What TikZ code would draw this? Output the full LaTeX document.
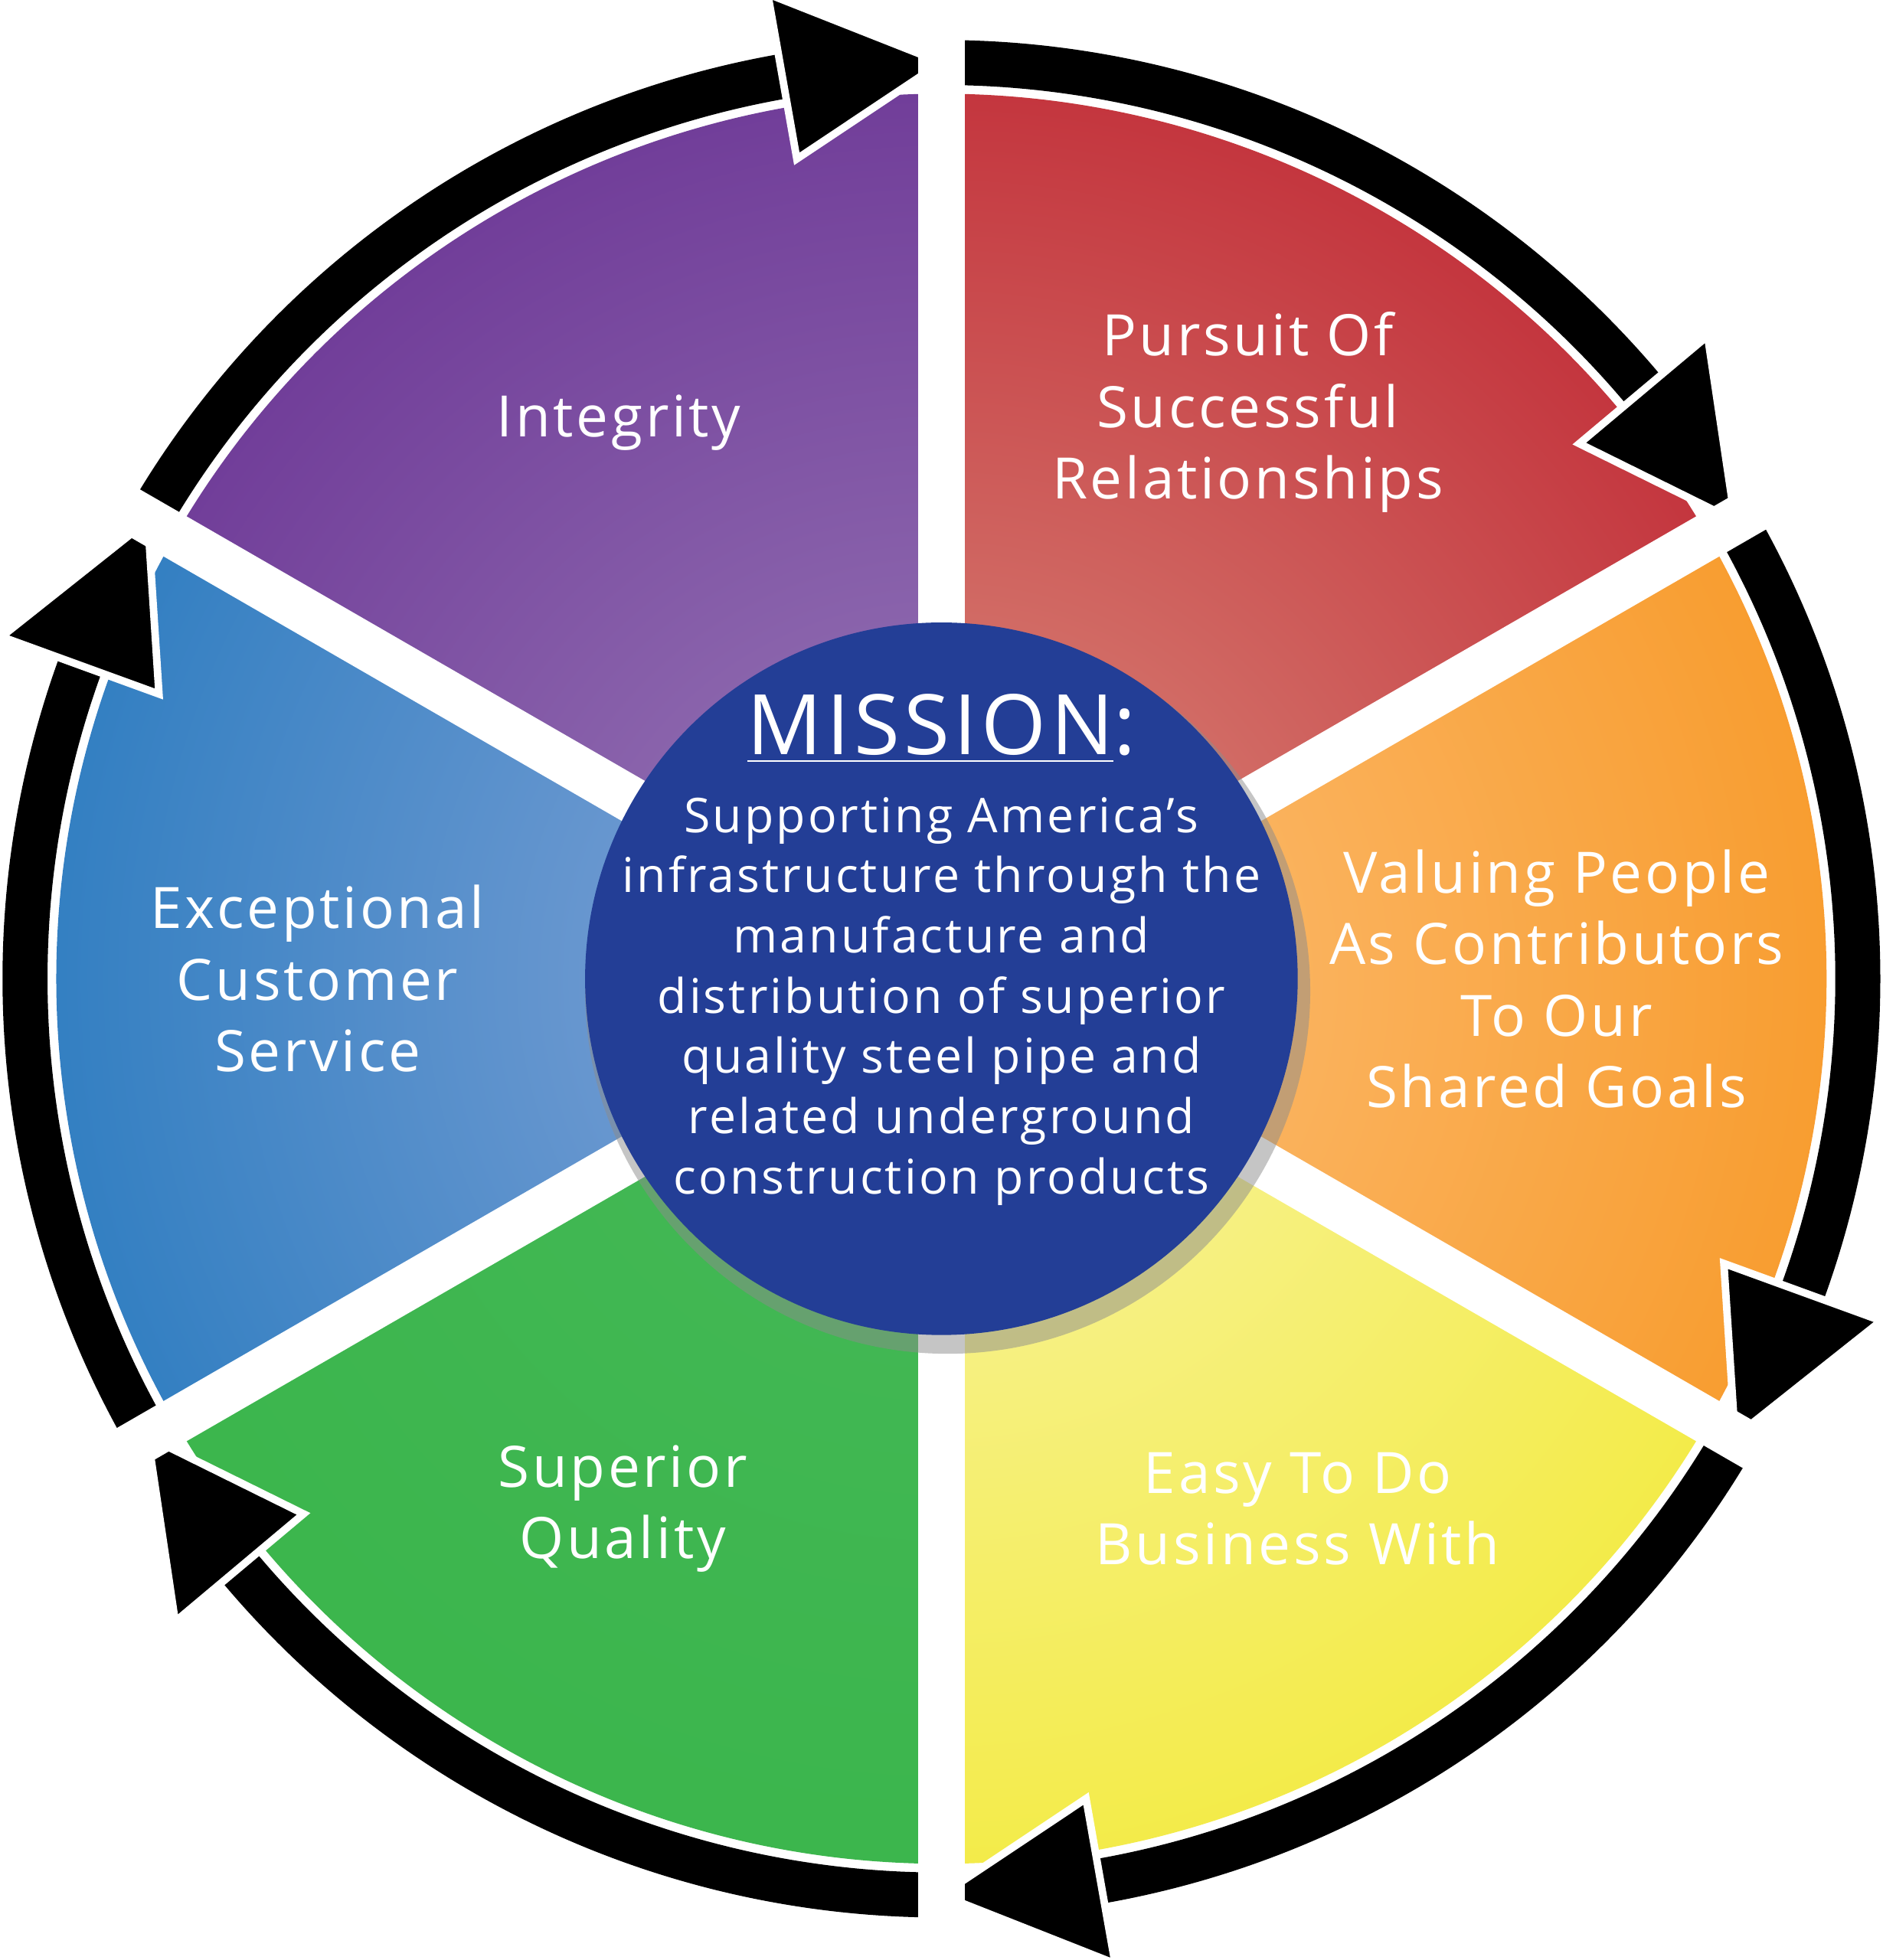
\documentclass[tikz,border=0pt]{standalone}
\usepackage{fontspec}
\setmainfont[LetterSpace=5]{Open Sans}
\usetikzlibrary{positioning}
\definecolor{redseg}{HTML}{BE1E2D}
\definecolor{redlite}{HTML}{DA8E7E}
\definecolor{orangeseg}{HTML}{F7941D}
\definecolor{orangelite}{HTML}{FCC07A}
\definecolor{yellowseg}{HTML}{F2E930}
\definecolor{yellowlite}{HTML}{F8F4A8}
\definecolor{greenseg}{HTML}{39B54A}
\definecolor{greenlite}{HTML}{45B857}
\definecolor{blueseg}{HTML}{1C75BC}
\definecolor{bluelite}{HTML}{8AA6D8}
\definecolor{purpleseg}{HTML}{662D91}
\definecolor{purplelite}{HTML}{9A7CB8}
\definecolor{missionblue}{HTML}{233E96}
\def\segrad{7.08}
\def\ringrad{7.33}

\begin{document}
\begin{tikzpicture}
    \tikzstyle{value}=[text=white, align=center, font=\fontsize{13}{16.3}\selectfont]
    \tikzstyle{ring}=[draw=black, line width=0.36cm]
    \tikzstyle{head}=[fill=black, draw=white, line width=0.06cm, line join=miter]
    \tikzstyle{gap}=[draw=white, line width=0.37cm]

    \useasboundingbox (-7.53,-7.85) rectangle (7.53,7.83);

    % Draw the six shaded segments
    \foreach \a / \col in {30/red, -30/orange, -90/yellow, -150/green, 150/blue, 90/purple}
    {
        \begin{scope}
            \clip (0,0) -- (\a:\segrad) arc (\a:\a+60:\segrad) -- cycle;
            \shade[inner color=\col lite, outer color=\col seg] (0,0) circle (9);
        \end{scope}
    }

    % Draw the arrow ring, one arrow for every segment
    \foreach \a in {30, -30, -90, -150, 150, 90}
    {
        \draw[ring] (\a+60:\ringrad) arc (\a+60:\a+9:\ringrad);
        \filldraw[head] (\a+10:6.66) -- (\a:\ringrad) -- (\a+10:8.0) -- cycle;
    }

    % White gaps between the segments
    \foreach \a in {30, -30, -90, -150, 150, 90}
        \draw[gap] (0,0) -- (\a:8.2);

    % Mission in the middle
    \fill[black!45, opacity=0.5] (0.05,-0.1) circle (2.9);
    \node[circle, fill=missionblue, minimum size=5.7cm, inner sep=0pt] (mission) at (0,0) {};
    \node[text=white, font=\fontsize{19}{24}\selectfont] (title) at (0,2.0) {\underline{MISSION}:};
    \node[text=white, align=center, font=\fontsize{10.9}{13.7}\selectfont] (body) at (0,-0.18)
        {Supporting America’s\\infrastructure through the\\manufacture and\\distribution of superior\\quality steel pipe and\\related underground\\construction products};

    % Values
    \node[value] (integrity) at (-2.58,4.45) {Integrity};
    \node[value] (pursuit) at (2.45,4.53) {Pursuit Of\\Successful\\Relationships};
    \node[value] (valuing) at (4.92,0) {Valuing People\\As Contributors\\To Our\\Shared Goals};
    \node[value] (easy) at (2.85,-4.24) {Easy To Do\\Business With};
    \node[value] (superior) at (-2.55,-4.24) {Superior\\Quality};
    \node[value] (service) at (-4.99,0) {Exceptional\\Customer\\Service};
\end{tikzpicture}
\end{document}
